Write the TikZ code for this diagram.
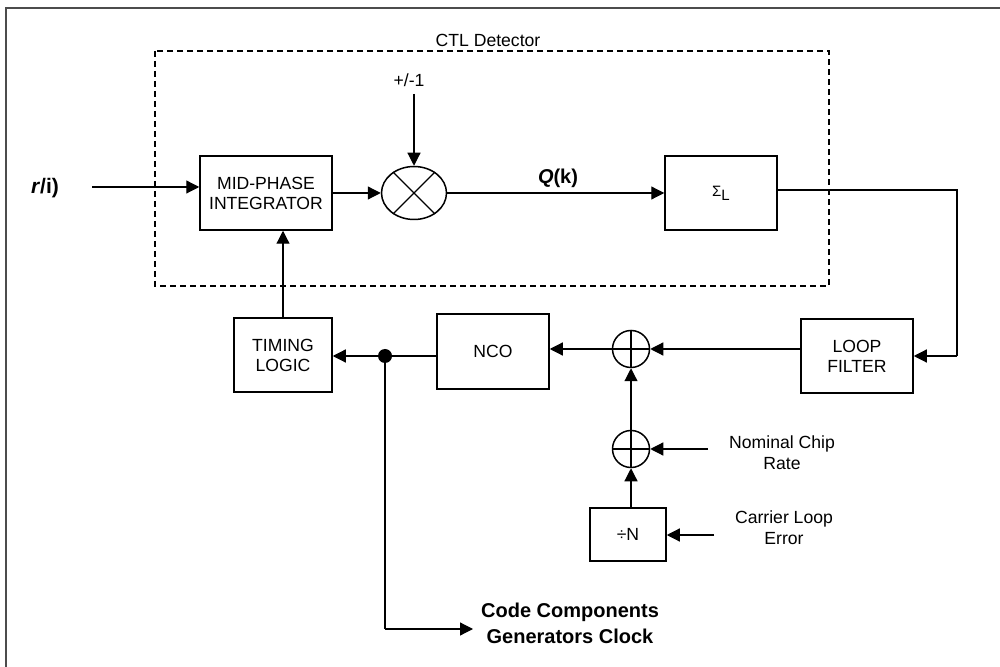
\documentclass[tikz,border=0pt]{standalone}
\usepackage{fontspec}
\setmainfont{Liberation Sans}
\usetikzlibrary{arrows.meta,shapes.geometric}
\tikzset{
  blk/.style={draw, line width=0.75pt, inner sep=0pt, align=center, font=\fontsize{8.8pt}{10pt}\selectfont},
  conn/.style={line width=0.6pt, -{Triangle[length=6.5pt,width=6.5pt]}},
  plain/.style={line width=0.6pt},
  lbl/.style={align=center, inner sep=0pt, font=\fontsize{8.8pt}{10.5pt}\selectfont},
  blbl/.style={align=center, inner sep=0pt, font=\bfseries\fontsize{10pt}{13pt}\selectfont},
  sumnode/.style={draw, circle, line width=0.75pt, minimum size=18.5pt, inner sep=0pt},
}
\begin{document}
\begin{tikzpicture}[x=0.5pt,y=-0.5pt]
\useasboundingbox (0,0) rectangle (1000,667);
% frame (cropped at right and bottom)
\draw[line width=1pt, black!70] (6,667) -- (6,8) -- (1000,8);
% CTL detector dashed box
\draw[line width=1pt, dash pattern=on 3pt off 2pt] (155,51) rectangle (829,286);
\node[lbl] (ctl) at (488,40) {CTL Detector};

% blocks
\node[blk, minimum width=66pt, minimum height=37pt] (mid) at (266,193) {MID-PHASE\\INTEGRATOR};
\node[draw, ellipse, line width=0.75pt, minimum width=32.5pt, minimum height=26.5pt, inner sep=0pt] (mult) at (414,193) {};
\draw[plain] (mult.45) -- (mult.225) (mult.135) -- (mult.315);
\node[blk, minimum width=56pt, minimum height=37pt] (sigma) at (721,193) {\fontsize{7.5pt}{8pt}\selectfont Σ\raisebox{-2pt}{L}};
\node[blk, minimum width=49pt, minimum height=37pt] (timing) at (283,355) {TIMING\\LOGIC};
\node[blk, minimum width=56pt, minimum height=37.5pt] (nco) at (493,351.5) {NCO};
\node[sumnode] (sum1) at (631,349) {};
\draw[plain] (sum1.north) -- (sum1.south) (sum1.west) -- (sum1.east);
\node[blk, minimum width=56pt, minimum height=37pt] (lf) at (857,356) {LOOP\\FILTER};
\node[sumnode] (sum2) at (631,449) {};
\draw[plain] (sum2.north) -- (sum2.south) (sum2.west) -- (sum2.east);
\node[blk, minimum width=38pt, minimum height=26.5pt] (divn) at (628,534.5) {÷N};
\node[circle, fill=black, minimum size=7pt, inner sep=0pt] (dot) at (385,356) {};

% labels
\node[lbl] (pmlbl) at (409,80) {+/-1};
\node[inner sep=0pt, font=\bfseries\fontsize{10.5pt}{12pt}\selectfont] (rin) at (45,188) {\textit{r}/i)};
\node[inner sep=0pt, font=\bfseries\fontsize{10pt}{12pt}\selectfont] (qk) at (558,178) {\textit{Q}(k)};
\node[lbl] (nom) at (782,453) {Nominal Chip\\Rate};
\node[lbl] (car) at (784,528) {Carrier Loop\\Error};
\node[blbl] (code) at (570,623) {Code Components\\Generators Clock};

% coordinates
\coordinate (inS) at (92,187);
\coordinate (pmS) at (414,94);
\coordinate (c1) at (957,190);
\coordinate (c2) at (957,356);
\coordinate (nomS) at (708,449);
\coordinate (carS) at (714,535);
\coordinate (cb) at (385,629);
\coordinate (cbE) at (473,629);

% connectors
\draw[conn] (inS) -- (inS -| mid.west);
\draw[conn] (mid.east) -- (mult.west);
\draw[conn] (pmS) -- (mult.north);
\draw[conn] (mult.east) -- (mult.east -| sigma.west);
\draw[plain] (sigma.east |- c1) -- (c1) -- (c2);
\draw[conn] (c2) -- (lf.east);
\draw[conn] (lf.west |- sum1) -- (sum1.east);
\draw[conn] (sum1.west) -- (sum1.west -| nco.east);
\draw[conn] (nco.west |- dot) -- (timing.east |- dot);
\draw[conn] (timing.north) -- (mid.south -| timing.north);
\draw[conn] (sum2.north) -- (sum1.south);
\draw[conn] (divn.north -| sum2) -- (sum2.south);
\draw[conn] (nomS) -- (sum2.east);
\draw[conn] (carS) -- (divn.east |- carS);
\draw[plain] (dot.center) -- (cb);
\draw[conn] (cb) -- (cbE);
\end{tikzpicture}
\end{document}
